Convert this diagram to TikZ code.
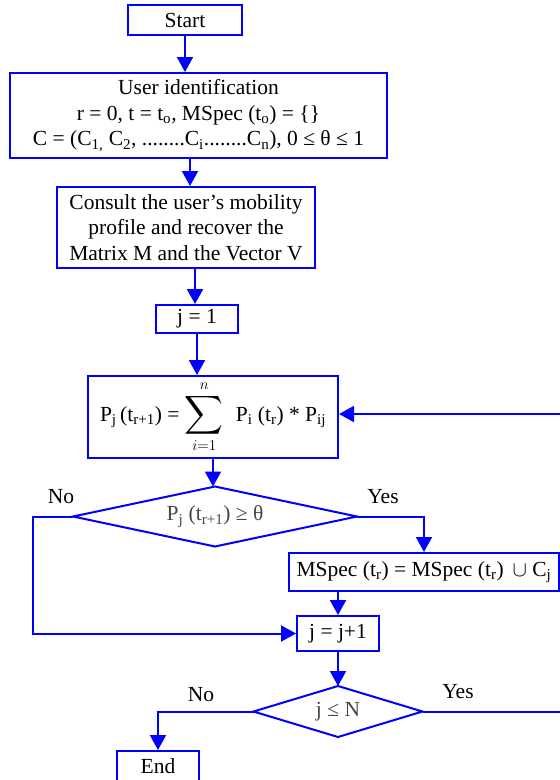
\RequirePackage{fix-cm}
\documentclass[tikz,border=0pt]{standalone}
\usepackage{exscale}
\usepackage{fontspec}
\setmainfont{Liberation Serif}
\usepackage{graphicx}
\usetikzlibrary{arrows.meta}
\definecolor{flowblue}{RGB}{0,0,255}
\definecolor{diagray}{RGB}{70,70,70}
\begin{document}
\begin{tikzpicture}[x=1pt,y=1pt,
  txt/.style={font=\fontsize{21.5}{25.5}\selectfont},
  box/.style={txt,draw=flowblue,line width=2pt,inner sep=0pt,align=center,text=black},
  diatext/.style={txt,inner sep=0pt,text=diagray},
  arr/.style={draw=flowblue,line width=2pt,-{Triangle[length=15pt,width=16pt]}},
  ln/.style={draw=flowblue,line width=2pt,line join=miter}]
\useasboundingbox (0,0) rectangle (560,-780);
\clip (0,0) rectangle (560,-780);
% nodes
\node[box,minimum width=114pt,minimum height=30pt] (start) at (185,-20) {Start};
\node[box,minimum width=377pt,minimum height=85pt] (userid) at (198.5,-115.5)
  {User identification\\
   r = 0, t = t\textsubscript{o}, MSpec (t\textsubscript{o}) = \{\}\\
   C = (C\textsubscript{1,} C\textsubscript{2}, ........C\textsubscript{i}........C\textsubscript{n}), 0 ≤ θ ≤ 1};
\node[box,minimum width=258pt,minimum height=81pt] (consult) at (186,-227.5)
  {Consult the user’s mobility\\profile and recover the\\Matrix M and the Vector V};
\node[box,minimum width=82pt,minimum height=28pt] (j1) at (197,-319) {j = 1};
\node[box,minimum width=250pt,minimum height=82pt] (sum) at (213,-417)
  {P\textsubscript{j}\,(t\textsubscript{r+1}) = $\displaystyle\mathop{\vcenter{\hbox{\scalebox{1.3}{$\displaystyle\sum$}}}}\limits_{i=1}^{n}$\hspace{12pt}P\textsubscript{i} (t\textsubscript{r}) * P\textsubscript{ij}};
% diamond 1
\node[diatext] (d1) at (215,-516.5) {P\textsubscript{j} (t\textsubscript{r+1}) ≥ θ};
\path (d1.center) ++(-142,0) coordinate (d1w) (d1.center) ++(142,0) coordinate (d1e)
      (d1.center) ++(0,30) coordinate (d1n) (d1.center) ++(0,-30) coordinate (d1s);
\draw[ln] (d1w) -- (d1n) -- (d1e) -- (d1s) -- cycle;
\node[box,minimum width=270pt,minimum height=38pt] (mspec) at (424,-572)
  {MSpec (t\textsubscript{r}) = MSpec (t\textsubscript{r}) \,$\cup$ C\textsubscript{j}};
\node[box,minimum width=82pt,minimum height=35pt] (jinc) at (338,-633.5) {j = j+1};
% diamond 2
\node[diatext] (d2) at (338,-711.5) {j ≤ N};
\path (d2.center) ++(-84.5,0) coordinate (d2w) (d2.center) ++(84.5,0) coordinate (d2e)
      (d2.center) ++(0,25.5) coordinate (d2n) (d2.center) ++(0,-25.5) coordinate (d2s);
\draw[ln] (d2w) -- (d2n) -- (d2e) -- (d2s) -- cycle;
\node[box,minimum width=82pt,minimum height=30pt] (end) at (158,-766) {End};
% labels
\node[txt] (no1) at (61,-497) {No};
\node[txt] (yes1) at (383,-497) {Yes};
\node[txt] (no2) at (201,-695) {No};
\node[txt] (yes2) at (458,-692) {Yes};
% helper coordinates
\coordinate (c1) at (190,0);
\coordinate (c2) at (195,0);
\coordinate (cn) at (33,0);
\coordinate (cr) at (600,0);
% connectors
\draw[arr] (start.south) -- (start.south |- userid.north);
\draw[arr] (userid.south -| c1) -- (consult.north -| c1);
\draw[arr] (consult.south -| c2) -- (j1.north -| c2);
\draw[arr] (j1.south) -- (j1.south |- sum.north);
\draw[arr] (sum.south) -- (sum.south |- d1n);
\draw[arr] (d1e) -| (mspec.north);
\draw[arr] (d1w) -- (d1w -| cn) |- (jinc.west);
\draw[arr] (mspec.south -| jinc.north) -- (jinc.north);
\draw[arr] (jinc.south) -- (d2n);
\draw[arr] (d2w) -| (end.north);
\draw[arr] (d2e) -- (d2e -| cr) |- ([yshift=3pt]sum.east);
\end{tikzpicture}
\end{document}
